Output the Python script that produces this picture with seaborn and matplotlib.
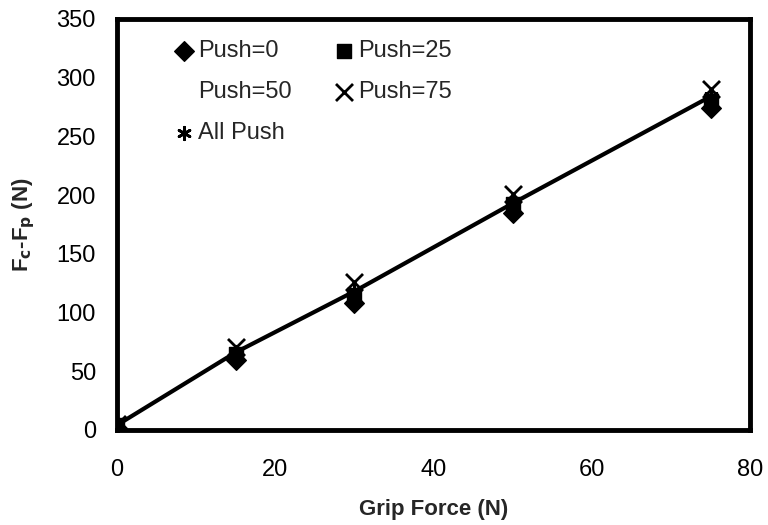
import numpy as np
import pandas as pd
import matplotlib
matplotlib.use("Agg")
import matplotlib.pyplot as plt
import seaborn as sns

# values
grip = [0, 15, 30, 50, 75]
push_0 = [2, 60, 108, 185, 274]
push_25 = [4, 65, 115, 192, 280]
push_50 = [3, 63, 112, 189, 278]
push_75 = [5, 71, 126, 201, 290]
all_push = [4, 66, 118, 193, 284]

sns.set_theme(style="white")
plt.rcParams['font.family'] = ['Liberation Sans', 'DejaVu Sans']

df = pd.DataFrame({"grip": grip, "p0": push_0, "p25": push_25,
                   "p50": push_50, "p75": push_75, "all": all_push})

fig = plt.figure(figsize=(7.68, 5.25), dpi=100)
ax = fig.add_axes([0.152, 0.181, 0.825, 0.783])

# fit line through the pooled data
sns.lineplot(data=df, x="grip", y="all", color="black", lw=3, ax=ax,
             legend=False, zorder=2)

h50 = ax.scatter(df.grip, df.p50, marker="s", s=80, color="white",
                 edgecolors="none", zorder=1, label="Push=50")
h0 = ax.scatter(df.grip, df.p0, marker="D", s=100, color="black",
                zorder=3, label="Push=0")
h25 = ax.scatter(df.grip, df.p25, marker="s", s=100, color="black",
                 zorder=3, label="Push=25")
h75 = ax.scatter(df.grip, df.p75, marker="x", s=150, color="black",
                 linewidths=2, zorder=3, label="Push=75")
hall = ax.scatter(df.grip, df["all"], marker=(6, 2, 0), s=80, color="black",
                  linewidths=2, zorder=3, label="All Push")

ax.set_xlim(0, 80)
ax.set_ylim(0, 350)
ax.set_xticks([0, 20, 40, 60, 80])
ax.set_yticks(range(0, 351, 50))
ax.tick_params(length=0, labelsize=17, colors="black")
ax.tick_params(axis="x", pad=21)
ax.tick_params(axis="y", pad=15)
for s in ax.spines.values():
    s.set_linewidth(3.5)
    s.set_color("black")

ax.set_xlabel("Grip Force (N)", fontsize=16, fontweight="bold", labelpad=13)
ax.set_ylabel("F$_\\mathbf{c}$-F$_\\mathbf{p}$ (N)", fontsize=16,
              fontweight="bold", labelpad=14)

leg = ax.legend(handles=[h0, h50, hall, h25, h75], ncol=2, frameon=False,
                loc="upper left", fontsize=17, handletextpad=0.0,
                handlelength=1.2, columnspacing=1.6, labelspacing=0.8,
                borderaxespad=0.5, bbox_to_anchor=(0.05, 1.0))

fig.savefig("out.png", dpi=100)
